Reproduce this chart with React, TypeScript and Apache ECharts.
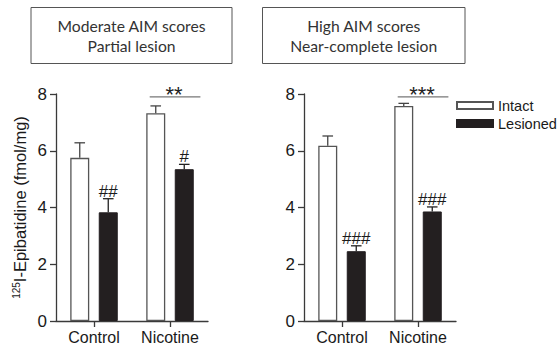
import React, { useEffect, useRef } from "react";
import * as echarts from "echarts";

// ---- Data ----
const categories = ["Control", "Nicotine"];
const seriesNames = ["Intact", "Lesioned"];
const panelTitles = [
  "Moderate AIM scores\nPartial lesion",
  "High AIM scores\nNear-complete lesion",
];
const yTicks = [0, 2, 4, 6, 8];

// Left panel (moderate AIM / partial lesion)
const intactLeft = [5.75, 7.32];
const intactLeftErr = [0.53, 0.26];
const lesionedLeft = [3.83, 5.35];
const lesionedLeftErr = [0.48, 0.17];
const lesionedLeftMarks = ["##", "#"];
const sigLeft = { category: 1, level: 7.9, text: "**" };

// Right panel (high AIM / near-complete lesion)
const intactRight = [6.18, 7.58];
const intactRightErr = [0.34, 0.09];
const lesionedRight = [2.46, 3.86];
const lesionedRightErr = [0.19, 0.16];
const lesionedRightMarks = ["###", "###"];
const sigRight = { category: 1, level: 7.9, text: "***" };

const FONT = "'Liberation Sans', Arial, Helvetica, sans-serif";
const AXIS_COLOR = "#3a3a3a";
const TEXT_COLOR = "#1a1a1a";
const BAR_BORDER = "#555";
const BLACK_FILL = "#231f20";
const BAR_OFFSET = 14.25;

function errorSeries(
  gridIdx: number,
  means: number[],
  errs: number[],
  side: number,
  marks: string[] | null
) {
  return {
    type: "custom",
    xAxisIndex: gridIdx,
    yAxisIndex: gridIdx,
    z: 5,
    silent: true,
    data: means.map((m, i) => [i, m, errs[i]]),
    renderItem: (params: any, api: any) => {
      const ci = api.value(0);
      const m = api.value(1);
      const e = api.value(2);
      const base = api.coord([ci, m]);
      const top = api.coord([ci, m + e]);
      const cx = base[0] + side * BAR_OFFSET;
      const stroke = side < 0 ? "#444" : "#222";
      const children: any[] = [
        {
          type: "line",
          shape: { x1: cx, y1: base[1], x2: cx, y2: top[1] },
          style: { stroke, lineWidth: 1.3 },
        },
        {
          type: "line",
          shape: { x1: cx - 5.3, y1: top[1], x2: cx + 5.3, y2: top[1] },
          style: { stroke, lineWidth: 1.3 },
        },
      ];
      if (marks && marks[params.dataIndex]) {
        children.push({
          type: "text",
          x: cx,
          y: top[1] + 1,
          style: {
            text: marks[params.dataIndex],
            textAlign: "center",
            textVerticalAlign: "bottom",
            fontSize: 17,
            fontFamily: FONT,
            fill: TEXT_COLOR,
          },
        });
      }
      return { type: "group", children };
    },
  };
}

function sigSeries(gridIdx: number, sig: { category: number; level: number; text: string }) {
  return {
    type: "custom",
    xAxisIndex: gridIdx,
    yAxisIndex: gridIdx,
    z: 5,
    silent: true,
    data: [[sig.category, sig.level]],
    renderItem: (_params: any, api: any) => {
      const p = api.coord([api.value(0), api.value(1)]);
      return {
        type: "group",
        children: [
          {
            type: "line",
            shape: { x1: p[0] - 20.3, y1: p[1], x2: p[0] + 30.4, y2: p[1] },
            style: { stroke: "#777", lineWidth: 1.2 },
          },
          {
            type: "text",
            x: p[0] + 4,
            y: p[1] - 2,
            style: {
              text: sig.text,
              textAlign: "center",
              textVerticalAlign: "middle",
              fontSize: 22,
              fontFamily: FONT,
              fill: "#222",
            },
          },
        ],
      };
    },
  };
}

export default function App() {
  const ref = useRef<HTMLDivElement>(null);

  useEffect(() => {
    if (!ref.current) return;
    const chart = echarts.init(ref.current, undefined, { renderer: "svg" });

    const grids = [
      { left: 56, top: 94, width: 152, height: 227 },
      { left: 304, top: 94, width: 152, height: 227 },
    ];

    const xAxes = grids.map((_, i) => ({
      type: "category",
      gridIndex: i,
      data: categories,
      axisLine: { show: true, lineStyle: { color: AXIS_COLOR, width: 1.3 } },
      axisTick: { show: true, alignWithLabel: true, length: 6, lineStyle: { color: AXIS_COLOR, width: 1.3 } },
      axisLabel: { fontSize: 16, color: TEXT_COLOR, margin: 8, fontFamily: FONT },
      splitLine: { show: false },
    }));

    const yAxes = grids.map((_, i) => ({
      type: "value",
      gridIndex: i,
      min: yTicks[0],
      max: yTicks[yTicks.length - 1],
      interval: 2,
      axisLine: { show: true, lineStyle: { color: AXIS_COLOR, width: 1.3 } },
      axisTick: { show: true, length: 6, lineStyle: { color: AXIS_COLOR, width: 1.3 } },
      axisLabel: { fontSize: 17, color: TEXT_COLOR, margin: 9, fontFamily: FONT },
      splitLine: { show: false },
      name: i === 0 ? "{sup|125}{main|I-Epibatidine (fmol/mg)}" : "",
      nameLocation: "middle",
      nameRotate: 90,
      nameGap: 28,
      nameTextStyle: {
        fontFamily: FONT,
        color: TEXT_COLOR,
        rich: {
          sup: { fontSize: 10, fontFamily: FONT, color: TEXT_COLOR, verticalAlign: "top", lineHeight: 17, padding: [0, 0, 7, 0] },
          main: { fontSize: 16.5, fontFamily: FONT, color: TEXT_COLOR, lineHeight: 17 },
        },
      },
    }));

    const barSeries = (gridIdx: number, intact: number[], lesioned: number[]) => [
      {
        name: seriesNames[0],
        type: "bar",
        xAxisIndex: gridIdx,
        yAxisIndex: gridIdx,
        data: intact,
        barWidth: 19,
        barGap: "50%",
        itemStyle: { color: "#ffffff", borderColor: BAR_BORDER, borderWidth: 1.3 },
      },
      {
        name: seriesNames[1],
        type: "bar",
        xAxisIndex: gridIdx,
        yAxisIndex: gridIdx,
        data: lesioned,
        barWidth: 19,
        barGap: "50%",
        itemStyle: { color: BLACK_FILL, borderColor: BLACK_FILL, borderWidth: 1 },
      },
    ];

    const titleBoxes = [
      { x: 31, y: 7.5, w: 201, h: 56 },
      { x: 262.5, y: 7.5, w: 202.5, h: 56 },
    ];

    const option: any = {
      animation: false,
      textStyle: { fontFamily: FONT },
      grid: grids,
      xAxis: xAxes,
      yAxis: yAxes,
      legend: {
        data: seriesNames,
        orient: "vertical",
        left: 456,
        top: 98,
        itemWidth: 36,
        itemHeight: 7,
        itemGap: 3,
        icon: "rect",
        textStyle: { fontSize: 14.5, color: TEXT_COLOR, fontFamily: FONT },
        selectedMode: false,
        padding: 0,
      },
      graphic: titleBoxes.map((b, i) => ({
        type: "group",
        children: [
          {
            type: "rect",
            shape: { x: b.x, y: b.y, width: b.w, height: b.h },
            style: { fill: "#fff", stroke: "#555", lineWidth: 1 },
          },
          {
            type: "text",
            x: b.x + b.w / 2,
            y: b.y + b.h / 2 + 0.5,
            style: {
              text: panelTitles[i],
              textAlign: "center",
              textVerticalAlign: "middle",
              fontSize: 15.7,
              lineHeight: 20,
              fontFamily: "Lato, 'Open Sans', sans-serif",
              fill: "#333",
            },
          },
        ],
      })),
      series: [
        ...barSeries(0, intactLeft, lesionedLeft),
        ...barSeries(1, intactRight, lesionedRight),
        errorSeries(0, intactLeft, intactLeftErr, -1, null),
        errorSeries(0, lesionedLeft, lesionedLeftErr, 1, lesionedLeftMarks),
        errorSeries(1, intactRight, intactRightErr, -1, null),
        errorSeries(1, lesionedRight, lesionedRightErr, 1, lesionedRightMarks),
        sigSeries(0, sigLeft),
        sigSeries(1, sigRight),
      ],
    };

    chart.setOption(option);
    return () => chart.dispose();
  }, []);

  return (
    <div
      ref={ref}
      style={{ position: "absolute", left: 0, top: 0, width: 559, height: 348, background: "#fff" }}
    />
  );
}
